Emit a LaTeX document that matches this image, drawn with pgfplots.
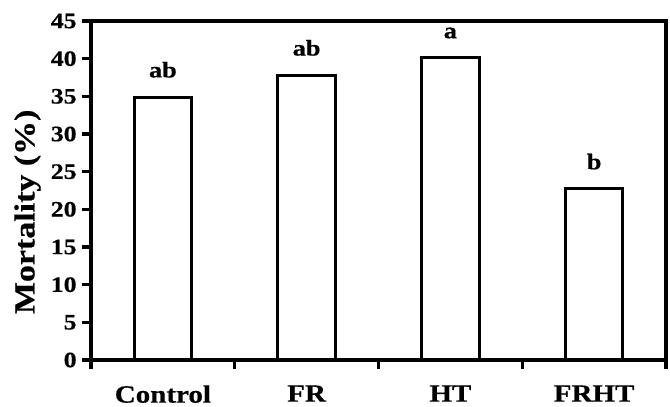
\documentclass[border=0pt]{standalone}
\usepackage{fontspec}
\setmainfont{Liberation Serif}[FakeStretch=1.17, BoldFeatures={FakeBold=0.6}]
\usepackage{pgfplots}
\pgfplotsset{compat=1.18}
\begin{document}
\begin{tikzpicture}
\begin{axis}[
  scale only axis, width=287.5pt, height=169.5pt,
  xmin=-0.5, xmax=3.5, ymin=0, ymax=45,
  axis line style={line width=1.7pt},
  every tick/.style={line width=1.7pt, black},
  tick align=outside, xtick pos=bottom, ytick pos=left,
  major tick length=4.5pt,
  ytick={0,5,...,45},
  xtick={-0.5,0.5,1.5,2.5,3.5}, xticklabels={},
  extra x ticks={0,1,2,3},
  extra x tick labels={Control,FR,HT,FRHT},
  extra x tick style={major tick length=0pt,
    xticklabel style={font=\bfseries\fontsize{12.4}{14}\selectfont, inner sep=0pt, anchor=north, yshift=-12.5pt}},
  yticklabel style={font=\bfseries\fontsize{11}{12}\selectfont, inner sep=0pt, xshift=-2.5pt},
  /pgf/number format/assume math mode=true,
  ylabel={Mortality (\%)},
  ylabel style={font=\bfseries\fontsize{14.5}{16}\selectfont, at={(axis description cs:-0.134,0.437)}, anchor=north, inner sep=0pt},
]
\addplot[ybar, bar width=0.4, draw=black, fill=white, line width=1.5pt,
  nodes near coords, point meta=explicit symbolic,
  every node near coord/.append style={font=\bfseries\fontsize{11.2}{12}\selectfont, inner sep=0pt, anchor=south, yshift=9pt}]
  coordinates {(0,34.9)[ab] (1,37.8)[ab] (2,40.1)[a] (3,22.7)[b]};
\end{axis}
\pgfresetboundingbox
\path[use as bounding box] ([shift={(-45.5pt,-23.5pt)}]current axis.south west) rectangle ([shift={(2pt,10.5pt)}]current axis.north east);
\end{tikzpicture}
\end{document}
